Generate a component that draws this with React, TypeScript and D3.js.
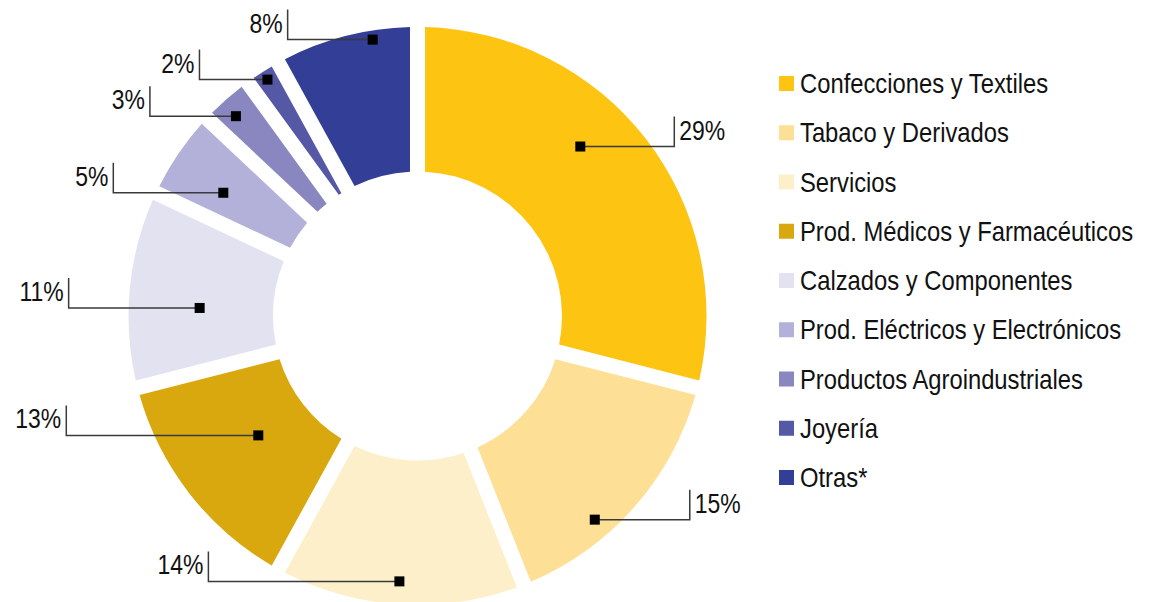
import React from 'react';
import * as d3 from 'd3';

// ---- data ----
const categories = [
  'Confecciones y Textiles',
  'Tabaco y Derivados',
  'Servicios',
  'Prod. Médicos y Farmacéuticos',
  'Calzados y Componentes',
  'Prod. Eléctricos y Electrónicos',
  'Productos Agroindustriales',
  'Joyería',
  'Otras*',
];
const shares = [29, 15, 14, 13, 11, 5, 3, 2, 8];
const colors = ['#FDC411', '#FDE095', '#FCEFC9', '#D8A80E', '#E3E2F1', '#B3B1D9', '#8A87C0', '#5558A5', '#333E96'];

// ---- annotation layout (position inside slice, radius, leader length) ----
const labelT = [0.42, 0.64, 0.506, 0.52, 0.417, 0.4, 0.42, 0.5, 0.68];
const labelR = [235, 270, 266, 199, 218, 230, 270, 280, 280];
const labelLead = [94, 95, 191, 192, 131, 110, 86, 68, 85];

const W = 1149;
const H = 602;
const cx = 417.5;
const cy = 316;
const rOuter = 289;
const rInner = 144.5;
const gap = 15;

export default function App() {
  const pie = d3.pie<number>().sort(null).value((d) => d);
  const arcs = pie(shares);
  const arc = d3
    .arc<d3.PieArcDatum<number>>()
    .innerRadius(rInner)
    .outerRadius(rOuter)
    .padRadius(rOuter)
    .padAngle(gap / rOuter);

  const font = '"Liberation Sans", Arial, Helvetica, sans-serif';

  const legendX = 779;
  const legendY0 = 83.5;
  const legendStep = 49.25;
  const sq = 15;

  return (
    <svg
      width={W}
      height={H}
      style={{ position: 'absolute', left: 0, top: 0, background: '#fff' }}
    >
      <g transform={`translate(${cx},${cy})`}>
        {arcs.map((a, i) => (
          <path key={i} d={arc(a) || ''} fill={colors[i]} />
        ))}
      </g>
      {arcs.map((a, i) => {
        const ang = a.startAngle + (a.endAngle - a.startAngle) * labelT[i];
        const ax = cx + labelR[i] * Math.sin(ang);
        const ay = cy - labelR[i] * Math.cos(ang);
        const right = Math.sin(ang) > 0;
        const lx = right ? ax + labelLead[i] : ax - labelLead[i];
        const tx = right ? lx + 5 : lx - 5;
        return (
          <g key={'l' + i}>
            <polyline
              points={`${ax},${ay} ${lx},${ay} ${lx},${ay - 30}`}
              fill="none"
              stroke="#3a3a3a"
              strokeWidth={1.5}
            />
            <rect x={ax - 5} y={ay - 5} width={10} height={10} fill="#000" />
            <g transform={`translate(${tx},${ay - 7}) scale(0.82,1)`}>
              <text
                x={0}
                y={0}
                textAnchor={right ? 'start' : 'end'}
                fontFamily={font}
                fontSize={28}
                fill="#111"
              >
                {shares[i]}%
              </text>
            </g>
          </g>
        );
      })}
      {categories.map((c, i) => {
        const y = legendY0 + i * legendStep;
        return (
          <g key={'g' + i}>
            <rect x={legendX} y={y - sq / 2} width={sq} height={sq} fill={colors[i]} />
            <g transform={`translate(${legendX + sq + 6},${y + 9.5}) scale(0.85,1)`}>
              <text x={0} y={0} fontFamily={font} fontSize={28} fill="#111">
                {c}
              </text>
            </g>
          </g>
        );
      })}
    </svg>
  );
}
